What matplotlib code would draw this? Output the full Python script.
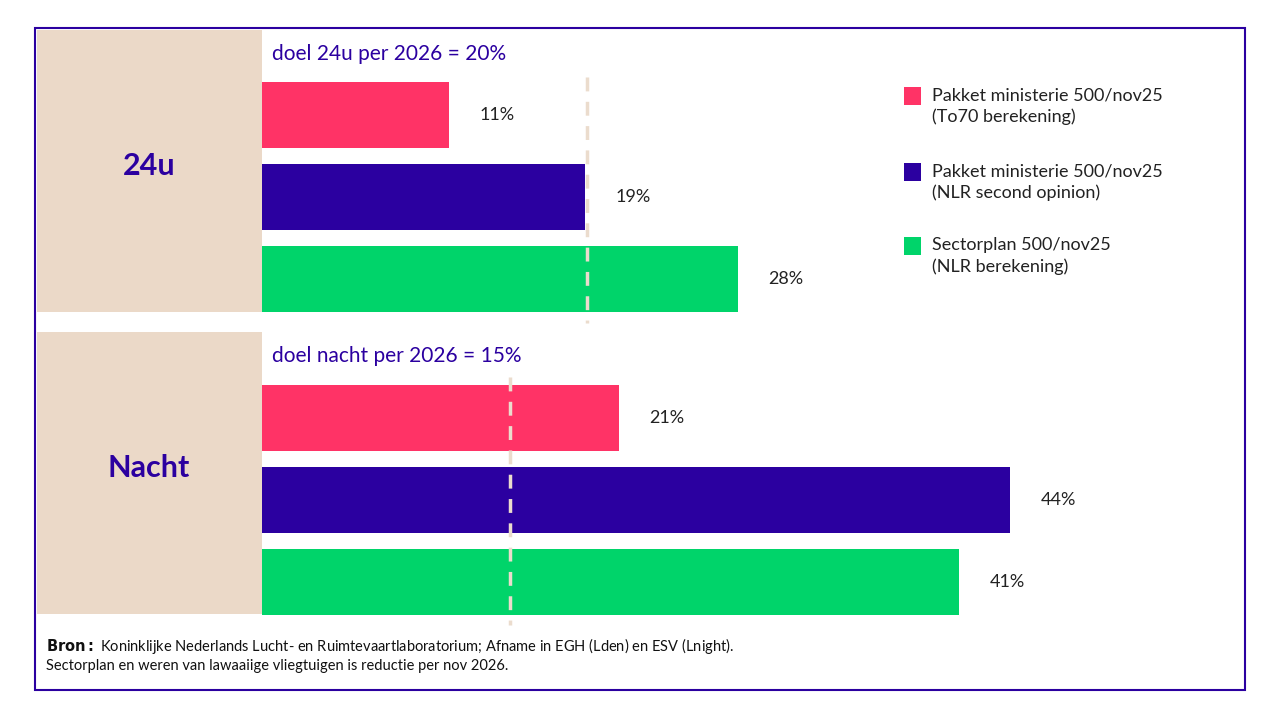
import matplotlib
matplotlib.use("Agg")
import matplotlib.pyplot as plt
from matplotlib.patches import Rectangle

plt.rcParams['font.family'] = ['Lato', 'DejaVu Sans']

groups = ["24u", "Nacht"]
series = ["Pakket ministerie 500/nov25\n(To70 berekening)",
          "Pakket ministerie 500/nov25\n(NLR second opinion)",
          "Sectorplan 500/nov25\n(NLR berekening)"]
values = {"24u": [11, 19, 28], "Nacht": [21, 44, 41]}
targets_label = ["doel 24u per 2026 = 20%", "doel nacht per 2026 = 15%"]
target_line = [19.1, 14.6]
colors = ["#FF3366", "#2B00A0", "#00D46A"]
beige = "#EBD9C8"
navy = "#2B00A0"

W, H = 1280, 720
fig = plt.figure(figsize=(W/100, H/100), dpi=100)
bg = fig.add_axes([0, 0, 1, 1])
bg.set_xlim(0, W); bg.set_ylim(H, 0); bg.axis('off')
bg.add_patch(Rectangle((35, 28), 1210, 662, fill=False, ec=navy, lw=1.5))
panels = [(30, 312), (332, 614)]
for (y0, y1), g in zip(panels, groups):
    bg.add_patch(Rectangle((37, y0), 225, y1 - y0, color=beige, lw=0))
    bg.text(149, (y0 + y1) / 2 - 5, g, ha='center', va='center', fontsize=22,
            fontweight='bold', color=navy)

px_per = 17.0
x0 = 262
ax = fig.add_axes([x0 / W, 0, (W - x0) / W, 1])
ax.set_xlim(0, (W - x0) / px_per); ax.set_ylim(H, 0); ax.axis('off')
centers = [[115, 197, 279], [418, 500, 582]]
for gi, g in enumerate(groups):
    for si in range(3):
        v = values[g][si]
        ax.barh(centers[gi][si], v, height=66, color=colors[si], zorder=2)
        ax.text(v + 1.8, centers[gi][si], f"{v}%", va='center', ha='left',
                fontsize=13, color='#222222')
    y0, y1 = (77, 323) if gi == 0 else (377, 625)
    ax.plot([target_line[gi]] * 2, [y0, y1], ls=(0, (4, 3)), lw=2.5,
            color='#EBDCCD' if gi == 0 else '#EBDCCD', zorder=3)
    ax.text(0.6, 54 if gi == 0 else 356, targets_label[gi], va='center',
            ha='left', fontsize=15, color=navy)

for si in range(3):
    yy = [96, 172, 246][si]
    bg.add_patch(Rectangle((904, yy - 9), 17, 18, color=colors[si], lw=0))
    bg.text(932, yy + 10, series[si], va='center', ha='left', fontsize=13,
            color='#222222', linespacing=1.35)

bg.text(46, 646, r"$\bf{Bron:}$ Koninklijke Nederlands Lucht- en Ruimtevaartlaboratorium; Afname in EGH (Lden) en ESV (Lnight).",
        fontsize=10.5, va='center', color='#111111')
bg.text(46, 666, "Sectorplan en weren van lawaaiige vliegtuigen is reductie per nov 2026.",
        fontsize=10.5, va='center', color='#111111')

fig.savefig("out.png", dpi=100)
